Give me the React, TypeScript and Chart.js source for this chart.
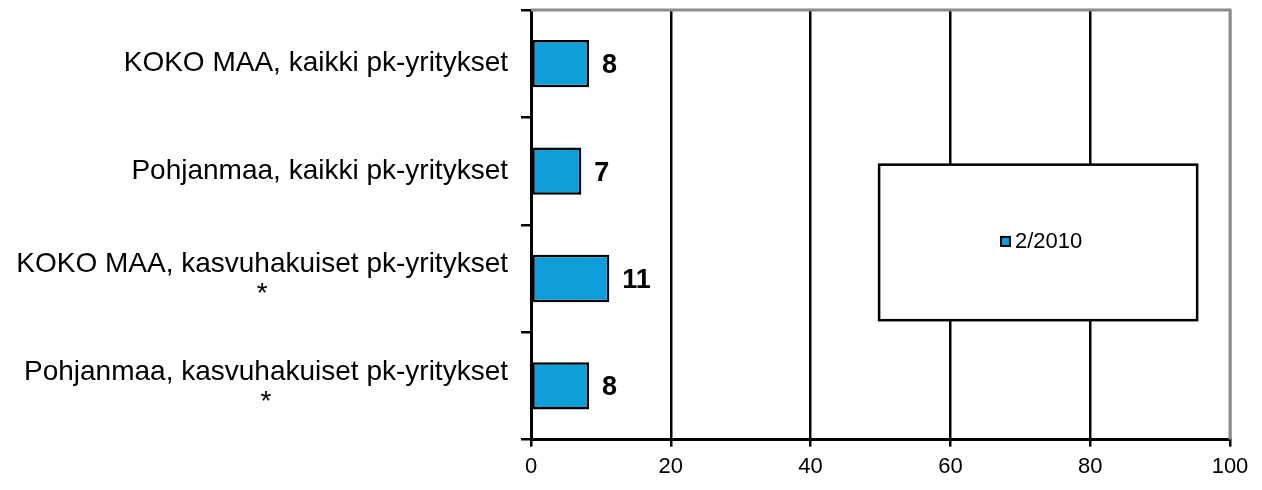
import React, { useEffect, useRef } from "react";
import { Chart, registerables } from "chart.js";

Chart.register(...registerables);

const categories: string[][] = [
  ["KOKO MAA, kaikki pk-yritykset"],
  ["Pohjanmaa, kaikki pk-yritykset"],
  ["KOKO MAA, kasvuhakuiset pk-yritykset", "*"],
  ["Pohjanmaa, kasvuhakuiset pk-yritykset", "*"],
];
const seriesLabel = "2/2010";
const values: number[] = [8.3, 7.2, 11.2, 8.3];
const valueLabels: string[] = ["8", "7", "11", "8"];
const xTicks: number[] = [0, 20, 40, 60, 80, 100];

const FONT = "'Liberation Sans', Arial, sans-serif";
const BAR_COLOR = "#0e9ed9";

const customPlugin = {
  id: "custom",
  afterDatasetsDraw(chart: any) {
    const { ctx, chartArea } = chart;
    const yScale = chart.scales.y;
    const meta = chart.getDatasetMeta(0);
    ctx.save();
    // frame top and right (gray)
    ctx.strokeStyle = "#8c8c8c";
    ctx.lineWidth = 3;
    ctx.beginPath();
    ctx.moveTo(chartArea.left, chartArea.top);
    ctx.lineTo(chartArea.right, chartArea.top);
    ctx.lineTo(chartArea.right, chartArea.bottom);
    ctx.stroke();

    // data labels
    ctx.fillStyle = "#000";
    ctx.font = `bold 27px ${FONT}`;
    ctx.textAlign = "left";
    ctx.textBaseline = "middle";
    meta.data.forEach((bar: any, i: number) => {
      ctx.fillText(valueLabels[i], bar.x + 13, bar.y + 2);
    });

    // category labels
    ctx.font = `28px ${FONT}`;
    const right = chartArea.left - 23;
    const lh = 30;
    categories.forEach((lines, i) => {
      const cy = yScale.getPixelForValue(i) + (lines.length > 1 ? 1 : 0);
      const maxW = Math.max(...lines.map((l) => ctx.measureText(l).width));
      const cx = right - maxW / 2;
      ctx.textAlign = "center";
      lines.forEach((l, j) => {
        const y = cy + (j - (lines.length - 1) / 2) * lh;
        ctx.fillText(l, cx, y);
      });
    });

    // legend box
    const w = chartArea.right - chartArea.left;
    const h = chartArea.bottom - chartArea.top;
    const lx0 = chartArea.left + 0.498 * w;
    const lx1 = chartArea.left + 0.953 * w;
    const ly0 = chartArea.top + 0.36 * h;
    const ly1 = chartArea.top + 0.722 * h;
    ctx.fillStyle = "#fff";
    ctx.fillRect(lx0, ly0, lx1 - lx0, ly1 - ly0);
    ctx.strokeStyle = "#000";
    ctx.lineWidth = 2.5;
    ctx.strokeRect(lx0, ly0, lx1 - lx0, ly1 - ly0);
    const my = (ly0 + ly1) / 2 - 1;
    const mx = 1001;
    ctx.fillStyle = BAR_COLOR;
    ctx.fillRect(mx, my - 4.5, 9, 9);
    ctx.lineWidth = 2;
    ctx.strokeRect(mx, my - 4.5, 9, 9);
    ctx.fillStyle = "#000";
    ctx.font = `22px ${FONT}`;
    ctx.textAlign = "left";
    ctx.fillText(seriesLabel, mx + 14, my + 1);
    ctx.restore();
  },
};

export default function App() {
  const ref = useRef<HTMLCanvasElement>(null);
  useEffect(() => {
    document.body.style.margin = "0";
    const chart = new Chart(ref.current!, {
      type: "bar",
      data: {
        labels: categories.map((c) => c.join(" ")),
        datasets: [
          {
            label: seriesLabel,
            data: values,
            backgroundColor: BAR_COLOR,
            borderColor: "#000",
            borderWidth: 2.5,
            borderSkipped: false,
            categoryPercentage: 1,
            barPercentage: 0.44,
          },
        ],
      },
      plugins: [customPlugin],
      options: {
        indexAxis: "y",
        animation: false,
        responsive: false,
        maintainAspectRatio: false,
        layout: { padding: { left: 521, right: 32, top: 10, bottom: 3 } },
        plugins: { legend: { display: false }, tooltip: { enabled: false } },
        scales: {
          x: {
            min: 0,
            max: 100,
            afterBuildTicks: (s: any) => {
              s.ticks = xTicks.map((v) => ({ value: v }));
            },
            ticks: {
              color: "#000",
              font: { family: FONT, size: 22 },
              padding: 7,
            },
            grid: {
              color: (c: any) => (c.tick && c.tick.value === 100 ? "#8c8c8c" : "#000"),
              lineWidth: 2.5,
              tickLength: 7,
              tickColor: "#000",
            },
            border: { color: "#000", width: 3 },
          },
          y: {
            ticks: { display: false },
            grid: {
              offset: true,
              drawOnChartArea: false,
              tickLength: 10,
              color: "#000",
              lineWidth: 2.5,
            },
            border: { color: "#000", width: 3 },
          },
        },
      },
    });
    return () => chart.destroy();
  }, []);
  return (
    <div style={{ width: 1262, height: 490 }}>
      <canvas ref={ref} width={1262} height={490} style={{ display: "block" }} />
    </div>
  );
}
